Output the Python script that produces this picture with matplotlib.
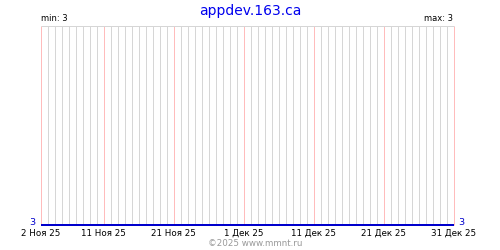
import datetime as dt
import matplotlib
matplotlib.use("Agg")
import matplotlib.pyplot as plt
import matplotlib.dates as mdates

title = "appdev.163.ca"
start = dt.date(2025, 11, 2)
n_days = 60
days = [start + dt.timedelta(days=i) for i in range(n_days)]
values = [3] * n_days
tick_days = [dt.date(2025, 11, 2), dt.date(2025, 11, 11), dt.date(2025, 11, 21),
             dt.date(2025, 12, 1), dt.date(2025, 12, 11), dt.date(2025, 12, 21),
             dt.date(2025, 12, 31)]
tick_labels = ["2 Ноя 25", "11 Ноя 25", "21 Ноя 25", "1 Дек 25",
               "11 Дек 25", "21 Дек 25", "31 Дек 25"]

px = 72 / 100  # one pixel in points
W, H = 500, 250

fig = plt.figure(figsize=(5, 2.5), dpi=100)
# axes edges placed on pixel centres so 1px lines stay crisp
ax = fig.add_axes([40.5 / W, 25.5 / H, 413 / W, 199 / H])

day_nums = mdates.date2num(days)
tick_nums = mdates.date2num(tick_days)
other = [x for x in day_nums if x not in set(tick_nums)]

ax.vlines(other, 3, 4, colors="#d6d6d6", lw=px, zorder=1, clip_on=False)
ax.vlines(tick_nums, 3, 4, colors="#ffbcbc", lw=px, zorder=2, clip_on=False)
ax.hlines(4, day_nums[0], day_nums[-1], colors="#d6d6d6", lw=px, zorder=2,
          clip_on=False)

ax.plot(days, values, color="#0000cc", lw=2 * px, zorder=3,
        solid_capstyle="butt", clip_on=False)

ax.set_xlim(day_nums[0], day_nums[-1])
ax.set_ylim(3, 4)
for s in ax.spines.values():
    s.set_visible(False)
ax.set_yticks([])
ax.set_xticks(tick_nums)
ax.set_xticklabels(tick_labels, fontsize=6.3)
ax.tick_params(axis="x", length=0, pad=3)

ax.text(-0.012, 0.012, "3", transform=ax.transAxes, color="#0000cc",
        fontsize=6.8, ha="right", va="center")
ax.text(1.012, 0.012, "3", transform=ax.transAxes, color="#0000cc",
        fontsize=6.8, ha="left", va="center")
ax.text(0.002, 1.015, "min: 3", transform=ax.transAxes, fontsize=6,
        ha="left", va="bottom")
ax.text(1, 1.015, "max: 3", transform=ax.transAxes, fontsize=6,
        ha="right", va="bottom")

fig.text(0.5, 0.955, title, color="#0000ee", fontsize=10, ha="center", va="center")
fig.text(0.51, 0.025, "©2025 www.mmnt.ru", color="#999999", fontsize=6.3,
         ha="center", va="center")

fig.savefig("out.png", dpi=100)
